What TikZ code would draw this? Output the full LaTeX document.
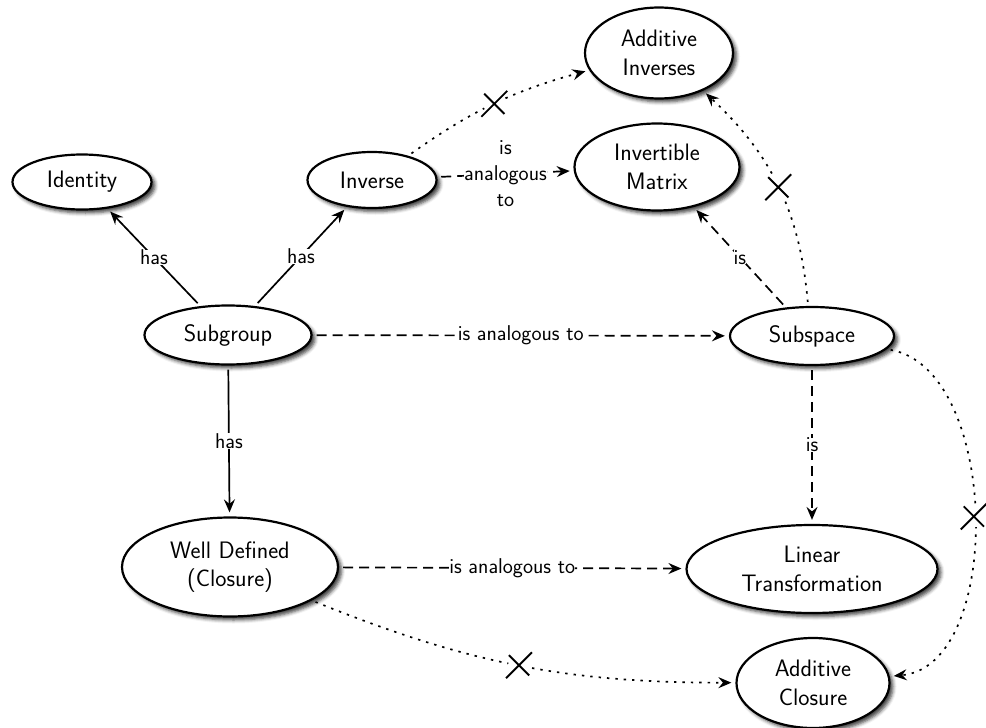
\documentclass[tikz,border=0pt]{standalone}
\usepackage{fontspec}
\usetikzlibrary{arrows.meta,shapes.geometric,shapes.misc,shadows.blur}

\begin{document}
\begin{tikzpicture}[x=1pt,y=-1pt,
  concept/.style={ellipse, draw, line width=2.2pt, fill=white, inner sep=0pt,
    align=center, font=\sffamily\fontsize{23.8}{28.5}\selectfont,
    blur shadow={shadow xshift=3.5pt, shadow yshift=-3.5pt,
      shadow blur radius=3.5pt, shadow opacity=75}},
  link/.style={line width=1.7pt, -{Stealth[length=13pt,width=11pt,inset=4.5pt]},
    shorten >=4pt, shorten <=4pt},
  solidlink/.style={link},
  dashlink/.style={link, dash pattern=on 10pt off 6pt},
  dotlink/.style={link, dash pattern=on 2.4pt off 6pt},
  tag/.style={fill=white, inner sep=0pt, align=center,
    font=\sffamily\fontsize{21.4}{26}\selectfont},
  xgap/.style={circle, fill=white, minimum size=22pt, inner sep=0pt},
  xmark/.style={cross out, draw, solid, line width=1.9pt, minimum size=24pt, inner sep=0pt},
]
\useasboundingbox (0,0) rectangle (986,728);

% concepts
\node[concept, minimum width=139pt, minimum height=55pt] (identity) at (82,182) {Identity};
\node[concept, minimum width=129pt, minimum height=56pt] (inverse)  at (372,180) {Inverse};
\node[concept, minimum width=148pt, minimum height=91pt] (addinv)   at (659,53)  {Additive\\Inverses};
\node[concept, minimum width=165pt, minimum height=87pt] (invmat)   at (657,167) {Invertible\\Matrix};
\node[concept, minimum width=167pt, minimum height=59pt] (subgroup) at (228,335) {Subgroup};
\node[concept, minimum width=164pt, minimum height=58pt] (subspace) at (812,336) {Subspace};
\node[concept, minimum width=216pt, minimum height=99pt] (welldef)  at (230,567) {Well Defined\\(Closure)};
\node[concept, minimum width=251pt, minimum height=88pt] (lintrans) at (812,569) {Linear\\Transformation};
\node[concept, minimum width=153pt, minimum height=90pt] (addclos)  at (813,683) {Additive\\Closure};

% "has" relations
\draw[solidlink] (subgroup) -- node[tag] (l1) {has} (identity);
\draw[solidlink] (subgroup) -- node[tag] (l2) {has} (inverse);
\draw[solidlink] (subgroup) -- node[tag] (l3) {has} (welldef);

% analogies and "is" relations
\draw[dashlink] (subgroup) -- node[tag] (l4) {is analogous to} (subspace);
\draw[dashlink] (inverse)  -- node[tag] (l5) {is\\analogous\\to} (invmat);
\draw[dashlink] (subspace) -- node[tag] (l6) {is} (invmat);
\draw[dashlink] (subspace) -- node[tag] (l7) {is} (lintrans);
\draw[dashlink] (welldef)  -- node[tag] (l8) {is analogous to} (lintrans);

% crossed-out relations
\draw[dotlink] (inverse) to[bend left=10]
  node[xgap] (g1) {} node[xmark] (x1) {} (addinv);
\draw[dotlink] (subspace) to[bend right=21]
  node[xgap] (g2) {} node[xmark] (x2) {} (addinv);
\draw[dotlink] (subspace) to[out=-10, in=5, looseness=0.9]
  node[xgap] (g3) {} node[xmark] (x3) {} (addclos);
\draw[dotlink] (welldef) to[bend right=11]
  node[xgap] (g4) {} node[xmark] (x4) {} (addclos);
\end{tikzpicture}
\end{document}
